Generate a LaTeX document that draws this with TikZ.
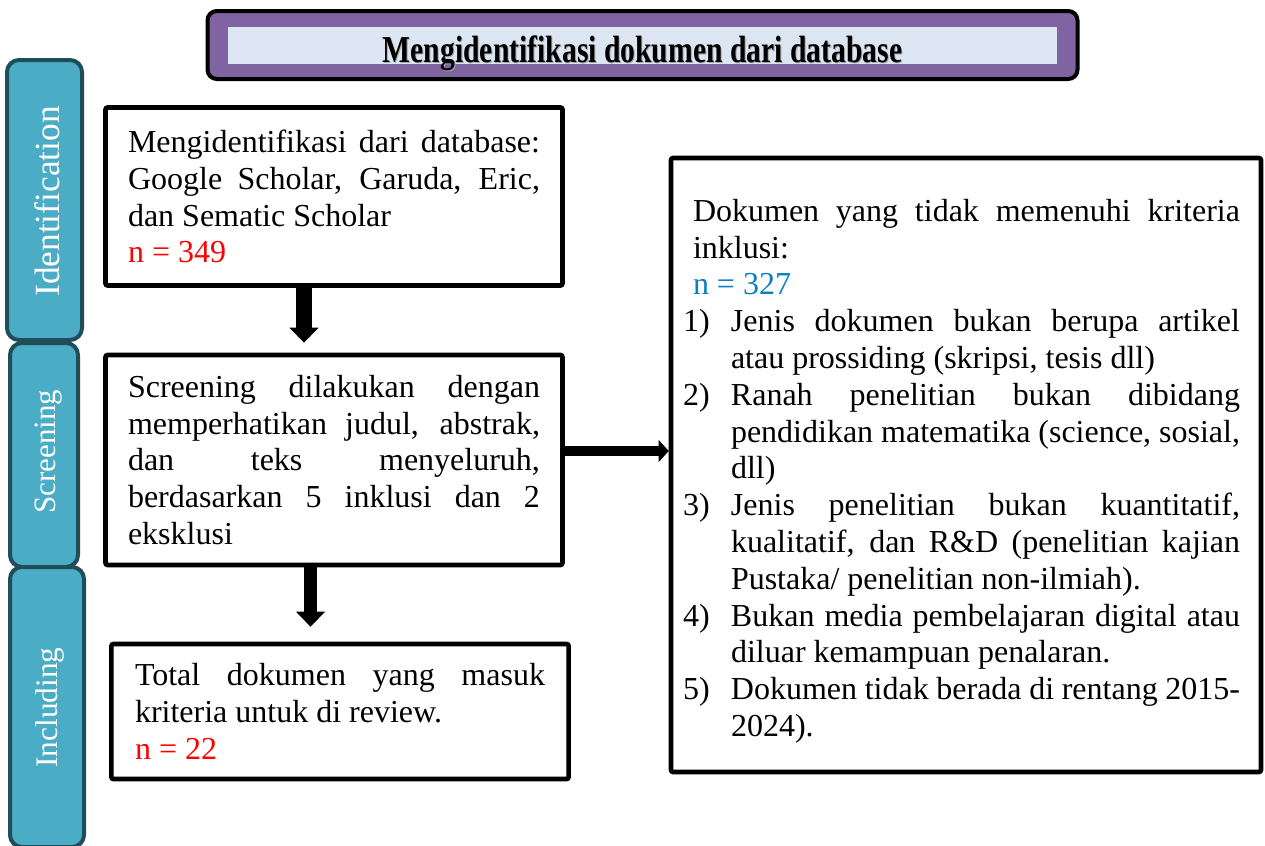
\documentclass[tikz,border=0pt]{standalone}
\usepackage{fontspec}
\usepackage{graphicx}
\setmainfont{Liberation Serif}
\usetikzlibrary{arrows.meta}
\definecolor{purp}{HTML}{8064A2}
\definecolor{lightbg}{HTML}{DCE6F2}
\definecolor{barfill}{HTML}{4BACC6}
\definecolor{bardraw}{HTML}{1F4E5A}
\definecolor{nblue}{HTML}{0B7FC3}
\definecolor{nred}{HTML}{FF0000}
\newcommand\JLine[2]{\makebox[#1][s]{#2}}
\newcommand\LLine[2]{\makebox[#1][l]{#2}}
\newcommand\RL[1]{\makebox[424.5pt][l]{#1}}
\newcommand\ItemJ[2]{\RL{\makebox[36pt][l]{#1}\makebox[381.75pt][s]{#2}}}
\newcommand\ItemL[2]{\RL{\makebox[36pt][l]{#1}#2}}
\newcommand\ContJ[1]{\RL{\hspace{36pt}\makebox[381.75pt][s]{#1}}}
\newcommand\ContL[1]{\RL{\hspace{36pt}#1}}
\begin{document}
\begin{tikzpicture}[x=0.75pt,y=-0.75pt,
  mybox/.style={draw=black, line width=3.4pt, fill=white, rounded corners=1.5pt,
    inner sep=0pt, align=left, font=\fontsize{24}{27.6}\selectfont},
  sidebar/.style={draw=bardraw, line width=3pt, fill=barfill, rounded corners=9pt, inner sep=0pt},
  sidelabel/.style={rotate=90, anchor=base, text=white, inner sep=0pt},
  bigarrow/.style={draw=black}]
\path[fill=white] (0,0) rectangle (1265,846);
\useasboundingbox (0,0) rectangle (1265,846);

% title
\node[draw=black, line width=3pt, fill=purp, rounded corners=7pt,
  minimum width=652.5pt, minimum height=51pt, inner sep=0pt] (titlebox) at (642.5,45) {};
\node[fill=lightbg, minimum width=621.75pt, minimum height=27.75pt, inner sep=0pt] (titleinner) at (642.5,45.5) {};
\node[anchor=base, inner sep=0pt, text=black!35, font=\bfseries\fontsize{28.5}{30}\selectfont]
  (titleshadow) at (643.5,63) {\scalebox{0.78}[1]{Mengidentifikasi dokumen dari database}};
\node[anchor=base, inner sep=0pt, font=\bfseries\fontsize{28.5}{30}\selectfont]
  (title) at (642.5,62) {\scalebox{0.78}[1]{Mengidentifikasi dokumen dari database}};

% side bars
\node[sidebar, minimum width=56.25pt, minimum height=210pt] (barI) at (44.5,200) {};
\node[sidebar, minimum width=51pt, minimum height=168pt] (barS) at (44,455) {};
\node[sidebar, minimum width=55.5pt, minimum height=210pt] (barC) at (47,707) {};
\node[sidelabel, font=\fontsize{26.5}{28}\selectfont] (labI) at (60,201.5) {Identification};
\node[sidelabel, font=\fontsize{23.25}{25}\selectfont] (labS) at (55.5,451.5) {Screening};
\node[sidelabel, font=\fontsize{23.5}{25}\selectfont] (labC) at (57.7,707.5) {Including};

% left boxes
\node[mybox, minimum width=342.75pt, minimum height=133.5pt] (b1) at (334,196.5)
{\JLine{309pt}{Mengidentifikasi dari database:}\\
 \JLine{309pt}{Google Scholar, Garuda, Eric,}\\
 \LLine{309pt}{dan Sematic Scholar}\\
 \LLine{309pt}{\textcolor{nred}{n = 349}}};

\node[mybox, minimum width=342.75pt, minimum height=157.5pt] (b2) at (334,460)
{\JLine{309pt}{Screening dilakukan dengan}\\
 \JLine{309pt}{memperhatikan judul, abstrak,}\\
 \JLine{309pt}{dan teks menyeluruh,}\\
 \JLine{309pt}{berdasarkan 5 inklusi dan 2}\\
 \LLine{309pt}{eksklusi}};

\node[mybox, minimum width=343pt, minimum height=101.25pt] (b3) at (340,711.5)
{\JLine{307.5pt}{Total dokumen yang masuk}\\
 \LLine{307.5pt}{kriteria untuk di review.}\\
 \LLine{307.5pt}{\textcolor{nred}{n = 22}}};

% right box
\node[mybox, minimum width=442.5pt, minimum height=460.5pt] (rb) at (966,465)
{\RL{\hspace{7.5pt}\makebox[410.25pt][s]{Dokumen yang tidak memenuhi kriteria}\rule{0pt}{26pt}}\\
 \RL{\hspace{7.5pt}inklusi:}\\
 \RL{\hspace{7.5pt}\textcolor{nblue}{n = 327}}\\
 \ItemJ{1)}{Jenis dokumen bukan berupa artikel}\\
 \ContL{atau prossiding (skripsi, tesis dll)}\\
 \ItemJ{2)}{Ranah penelitian bukan dibidang}\\
 \ContJ{pendidikan matematika (science, sosial,}\\
 \ContL{dll)}\\
 \ItemJ{3)}{Jenis penelitian bukan kuantitatif,}\\
 \ContJ{kualitatif, dan R\&D (penelitian kajian}\\
 \ContL{Pustaka/ penelitian non-ilmiah).}\\
 \ItemJ{4)}{Bukan media pembelajaran digital atau}\\
 \ContL{diluar kemampuan penalaran.}\\
 \ItemJ{5)}{Dokumen tidak berada di rentang 2015-}\\
 \ContL{2024).}};

% arrows
\draw[bigarrow, line width=12pt, shorten >=7.5pt,
  -{Triangle[width=21.75pt,length=11.25pt,line width=0pt]}]
  ([xshift=-22.5pt]b1.south) -- ([xshift=-22.5pt]b1.south |- b2.north);
\draw[bigarrow, line width=9.75pt, shorten >=11.25pt,
  -{Triangle[width=21.75pt,length=11.25pt,line width=0pt]}]
  ([xshift=-17.6pt]b2.south) -- ([xshift=-17.6pt]b2.south |- b3.north);
\draw[bigarrow, line width=7.5pt,
  -{Triangle[width=16.5pt,length=7.5pt,line width=0pt]}]
  ([yshift=6.75pt]b2.east) -- ([yshift=6.75pt]b2.east -| rb.west);
\end{tikzpicture}
\end{document}
